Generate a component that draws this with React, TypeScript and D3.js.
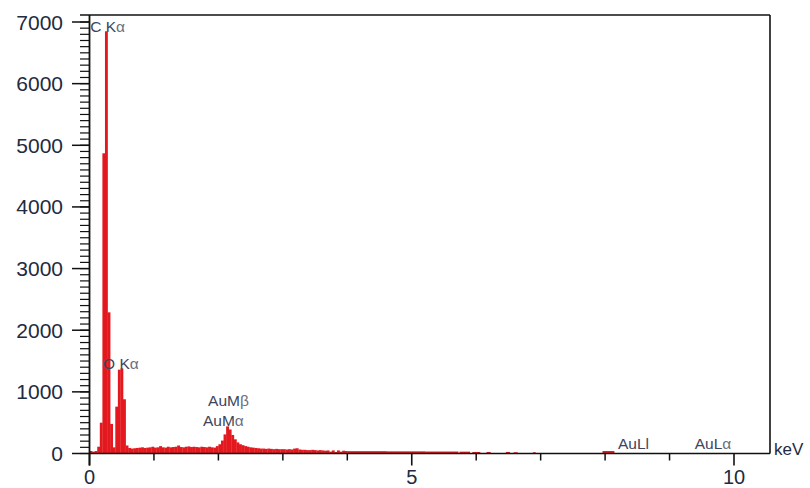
import React from "react";
import * as d3 from "d3";

// Spectrum: uniform 0.04 keV bins from 0 to 4.0 keV
const binWidth = 0.04;
const lowCounts = [
  40, 30, 40, 110, 500, 4870, 6850, 2290, 480, 100,
  760, 1360, 1380, 880, 130, 90, 80, 85, 90, 95,
  100, 90, 95, 100, 110, 95, 100, 120, 100, 95,
  110, 100, 105, 110, 130, 105, 100, 110, 115, 105,
  110, 105, 100, 110, 105, 100, 110, 100, 95, 120,
  150, 210, 310, 440, 390, 300, 230, 180, 150, 135,
  120, 110, 100, 95, 90, 85, 80, 80, 75, 80,
  75, 70, 75, 70, 70, 70, 65, 70, 65, 80,
  85, 65, 60, 60, 55, 55, 60, 55, 50, 55,
  50, 45, 50, 30, 50, 25, 50, 30, 45, 40,
];

// Tail segments above 4 keV
const tailStart = [4.0, 4.6, 5.2, 5.74, 5.94, 6.16, 6.46, 6.58, 6.88, 7.96];
const tailEnd = [4.6, 5.2, 5.72, 5.9, 6.06, 6.22, 6.52, 6.64, 6.92, 8.14];
const tailCounts = [38, 35, 32, 30, 25, 25, 25, 20, 20, 40];

const yTickLabels = [0, 1000, 2000, 3000, 4000, 5000, 6000, 7000];
const xTickLabels = [0, 5, 10];
const xMinorTicks = [1, 2, 3, 4, 6, 7, 8, 9];

const peakLabels = [
  { text: "C K", greek: "α", e: 0.01, c: 6830 },
  { text: "O K", greek: "α", e: 0.21, c: 1365 },
  { text: "AuM", greek: "β", e: 1.84, c: 765 },
  { text: "AuM", greek: "α", e: 1.76, c: 440 },
  { text: "AuLl", greek: "", e: 8.2, c: 70 },
  { text: "AuL", greek: "α", e: 9.39, c: 70 },
];

export default function App() {
  const x = d3.scaleLinear().domain([0, 10]).range([89.5, 734]);
  const y = d3.scaleLinear().domain([0, 7000]).range([453.5, 22]);
  const right = 770;
  const top = 15;
  const y0 = y(0);
  const red = "#e3191f";
  const tickColor = "#222a40";
  const labelColor = "#3c455c";

  const bins = lowCounts.map((c, i) => ({ s: i * binWidth, e: (i + 1) * binWidth, c }));
  tailStart.forEach((s, i) => bins.push({ s, e: tailEnd[i], c: tailCounts[i] }));

  const yMinor = d3.range(0, 7001, 100);

  return (
    <svg
      width={810}
      height={488}
      style={{ position: "absolute", left: 0, top: 0, display: "block", background: "#fff" }}
      fontFamily="'Liberation Sans', Arial, sans-serif"
    >
      <rect x={0} y={0} width={810} height={488} fill="#fff" />
      {/* spectrum bars */}
      <g>
        {bins.map((b, i) => (
          <rect
            key={i}
            x={x(b.s)}
            y={y(b.c)}
            width={Math.max(0.8, x(b.e) - x(b.s) + 0.3)}
            height={y0 - y(b.c)}
            fill={red}
          />
        ))}
      </g>
      {/* frame */}
      <line x1={80} x2={right} y1={top} y2={top} stroke="#111" strokeWidth={1.6} />
      <line x1={right} x2={right} y1={top} y2={y0} stroke="#111" strokeWidth={1.6} />
      <line x1={x(0)} x2={right} y1={y0} y2={y0} stroke="#111" strokeWidth={1.6} />
      <line x1={x(0)} x2={x(0)} y1={top} y2={y0 + 12} stroke="#111" strokeWidth={1.8} />
      {/* y ticks */}
      {yMinor.map((v) => (
        <line key={"ym" + v} x1={80} x2={x(0)} y1={y(v)} y2={y(v)} stroke="#111" strokeWidth={1.2} />
      ))}
      {yTickLabels.map((v) => (
        <g key={"y" + v}>
          <line x1={72} x2={x(0)} y1={y(v)} y2={y(v)} stroke="#111" strokeWidth={1.5} />
          <text
            x={63}
            y={y(v)}
            dy="0.36em"
            textAnchor="end"
            fontSize={21}
            fill={tickColor}
          >
            {v}
          </text>
        </g>
      ))}
      {/* x ticks */}
      {xMinorTicks.map((v) => (
        <line key={"xm" + v} x1={x(v)} x2={x(v)} y1={y0} y2={y0 + 7} stroke="#111" strokeWidth={1.5} />
      ))}
      {xTickLabels.map((v) => (
        <g key={"x" + v}>
          <line x1={x(v)} x2={x(v)} y1={y0} y2={y0 + 12} stroke="#111" strokeWidth={1.6} />
          <text x={x(v)} y={484} textAnchor="middle" fontSize={20} fill={tickColor}>
            {v}
          </text>
        </g>
      ))}
      <text x={774} y={455} fontSize={17} fill={tickColor}>
        keV
      </text>
      {/* peak labels */}
      {peakLabels.map((p, i) => (
        <text key={"p" + i} x={x(p.e)} y={y(p.c)} fontSize={15.5} fill={labelColor}>
          {p.text}
          {p.greek && <tspan fill="#6a6f7c">{p.greek}</tspan>}
        </text>
      ))}
    </svg>
  );
}
